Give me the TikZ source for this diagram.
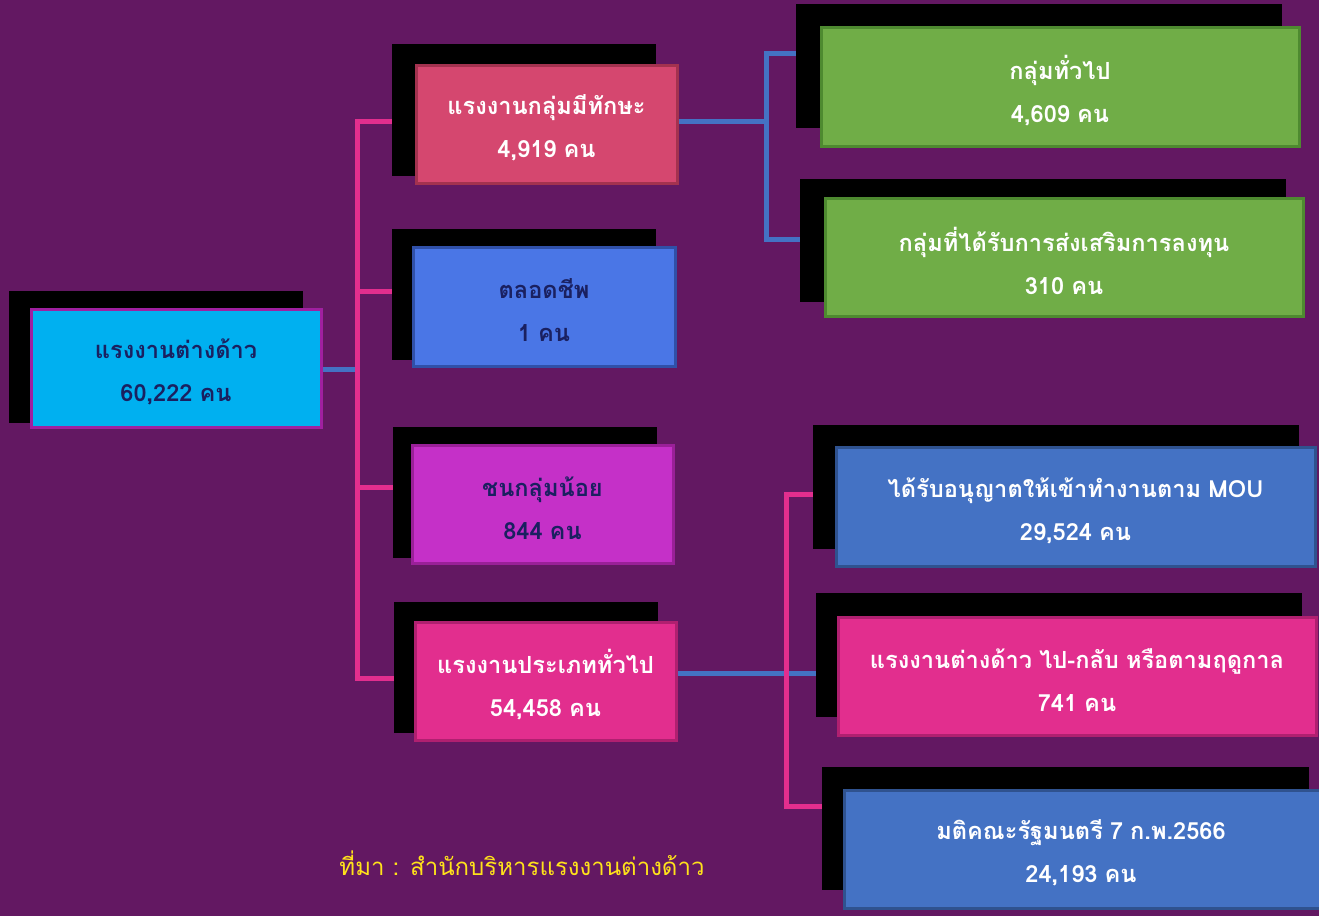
\documentclass[tikz,border=0pt]{standalone}
\usepackage{fontspec}
\newfontfamily\thai[Script=Thai]{Loma}
\newcommand\catfont{\thai\bfseries\fontsize{11.8}{21.5}\selectfont\spaceskip=0.3em plus 0.1em\relax}
\definecolor{bg}{HTML}{631862}
\definecolor{cyanbox}{HTML}{00B0F0}
\definecolor{rosebox}{HTML}{D5476F}
\definecolor{rosebd}{HTML}{A3324F}
\definecolor{bluebox}{HTML}{4A76E6}
\definecolor{bluebd}{HTML}{3050A8}
\definecolor{magbox}{HTML}{C530C8}
\definecolor{magbd}{HTML}{9A2098}
\definecolor{pinkbox}{HTML}{E22E8E}
\definecolor{pinkbd}{HTML}{B02070}
\definecolor{greenbox}{HTML}{70AD47}
\definecolor{greenbd}{HTML}{4E8A30}
\definecolor{steel}{HTML}{4472C4}
\definecolor{steelbd}{HTML}{2F528F}
\definecolor{navy}{HTML}{1A2060}
\definecolor{cyanbd}{HTML}{A020A0}
\definecolor{srcyellow}{HTML}{FFE21A}
\tikzset{
  shadowbox/.style={fill=black, draw=none, inner sep=0pt, minimum width=#1},
  catbox/.style={line width=1.5pt, inner sep=0pt},
  cattext/.style={inner sep=0pt, align=center, font=\catfont},
  pinkline/.style={draw=pinkbox, line width=2.5pt},
  blueline/.style={draw=steel, line width=2.5pt},
}
\begin{document}
\begin{tikzpicture}[x=0.5pt,y=-0.5pt]
\fill[bg] (0,0) rectangle (1319,916);
\useasboundingbox (0,0) rectangle (1319,916);
% shadows
\node[shadowbox=147pt, minimum height=66pt] (s0) at (156,357) {};
\node[shadowbox=132pt, minimum height=66pt] (s1) at (524,110) {};
\node[shadowbox=132pt, minimum height=65.5pt] (s2) at (524,294.5) {};
\node[shadowbox=132pt, minimum height=65.5pt] (s3) at (525,492.5) {};
\node[shadowbox=132pt, minimum height=65.5pt] (s4) at (526,667.5) {};
\node[shadowbox=243pt, minimum height=62pt] (sA) at (1039,66) {};
\node[shadowbox=243pt, minimum height=61.5pt] (sB) at (1043,240.5) {};
\node[shadowbox=243pt, minimum height=62pt] (sC) at (1056,487) {};
\node[shadowbox=243pt, minimum height=62pt] (sD) at (1059,655) {};
\node[shadowbox=243.5pt, minimum height=61.5pt] (sE) at (1065.5,828.5) {};
% connector points
\coordinate (pk) at (357,369);
\coordinate (t1) at (s1.west |- 0,121);
\coordinate (t2) at (s2.west |- 0,291);
\coordinate (t3) at (s3.west |- 0,487);
\coordinate (t4) at (s4.west |- 0,678);
\coordinate (j1) at (766,121);
\coordinate (uA) at (sA.west |- 0,53);
\coordinate (uB) at (sB.west |- 0,239);
\coordinate (k2) at (786,673);
\coordinate (vC) at (sC.west |- 0,494);
\coordinate (vD) at (sD.west |- 0,673);
\coordinate (vE) at (sE.west |- 0,806);
% boxes
\node[catbox, fill=cyanbox, draw=cyanbd, minimum width=145pt, minimum height=59pt] (b0) at (176,368) {};
\node[catbox, fill=rosebox, draw=rosebd, minimum width=130.5pt, minimum height=59pt] (b1) at (546.5,124) {};
\node[catbox, fill=bluebox, draw=bluebd, minimum width=131pt, minimum height=59.5pt] (b2) at (544,306.5) {};
\node[catbox, fill=magbox, draw=magbd, minimum width=130.5pt, minimum height=59pt] (b3) at (542.5,504) {};
\node[catbox, fill=pinkbox, draw=pinkbd, minimum width=130.5pt, minimum height=59pt] (b4) at (545.5,681) {};
\node[catbox, fill=greenbox, draw=greenbd, minimum width=239pt, minimum height=59.5pt] (bA) at (1060,86.5) {};
\node[catbox, fill=greenbox, draw=greenbd, minimum width=239pt, minimum height=59pt] (bB) at (1064,257) {};
\node[catbox, fill=steel, draw=steelbd, minimum width=239.5pt, minimum height=59.5pt] (bC) at (1075.5,506.5) {};
\node[catbox, fill=pinkbox, draw=pinkbd, minimum width=239pt, minimum height=59pt] (bD) at (1077,676) {};
\node[catbox, fill=steel, draw=steelbd, minimum width=239pt, minimum height=59pt] (bE) at (1083,849) {};
% texts
\node[cattext, text=navy] (l0) at ([yshift=-2pt]b0.center) {แรงงานต่างด้าว\\60,222 คน};
\node[cattext, text=white] (l1) at ([yshift=-2pt]b1.center) {แรงงานกลุ่มมีทักษะ\\4,919 คน};
\node[cattext, text=navy] (l2) at ([yshift=-2pt]b2.center) {ตลอดชีพ\\1 คน};
\node[cattext, text=navy] (l3) at ([yshift=-2pt]b3.center) {ชนกลุ่มน้อย\\844 คน};
\node[cattext, text=white] (l4) at ([yshift=-2pt]b4.center) {แรงงานประเภททั่วไป\\54,458 คน};
\node[cattext, text=white] (lA) at ([yshift=-2pt]bA.center) {กลุ่มทั่วไป\\4,609 คน};
\node[cattext, text=white] (lB) at ([yshift=-2pt]bB.center) {กลุ่มที่ได้รับการส่งเสริมการลงทุน\\310 คน};
\node[cattext, text=white] (lC) at ([yshift=-2pt]bC.center) {ได้รับอนุญาตให้เข้าทำงานตาม MOU\\29,524 คน};
\node[cattext, text=white] (lD) at ([yshift=-2pt]bD.center) {แรงงานต่างด้าว ไป-กลับ หรือตามฤดูกาล\\741 คน};
\node[cattext, text=white] (lE) at ([yshift=-2pt,xshift=-1pt]bE.center) {มติคณะรัฐมนตรี 7 ก.พ.2566\\24,193 คน};
% lines
\draw[blueline] (b0.east |- pk) -- (pk);
\draw[pinkline] (t1) -- (t1 -| pk) -- (t4 -| pk) -- (t4);
\draw[pinkline] (t2 -| pk) -- (t2);
\draw[pinkline] (t3 -| pk) -- (t3);
\draw[blueline] (b1.east |- j1) -- (j1);
\draw[blueline] (uA) -- (uA -| j1) -- (uB -| j1) -- (uB);
\draw[blueline] (b4.east |- k2) -- (vD);
\draw[pinkline] (vC) -- (vC -| k2) -- (vE -| k2) -- (vE);
% source
\node[text=srcyellow, font=\thai\fontsize{12}{16}\selectfont] (src) at (522,863) {ที่มา : สำนักบริหารแรงงานต่างด้าว};
\end{tikzpicture}
\end{document}
